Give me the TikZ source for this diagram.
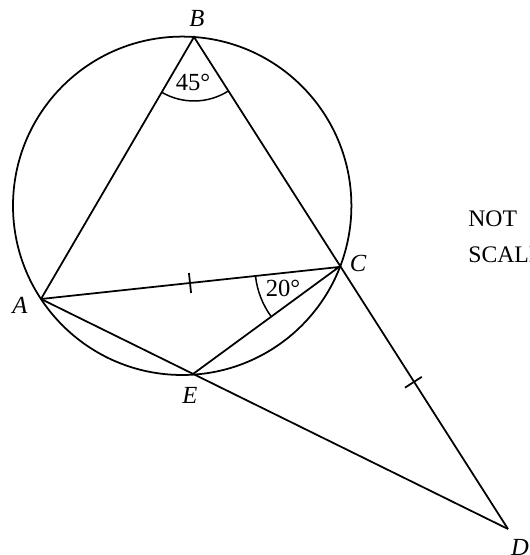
\documentclass[tikz,border=0pt]{standalone}
\usepackage{fontspec}
\setmainfont{Liberation Serif}
\usetikzlibrary{calc, angles}
\tikzset{
  geo/.style    ={line width=1pt, draw=black},
  angarc/.style ={draw=black, line width=0.85pt},
  tick/.style   ={draw=black, line width=1pt, sloped, minimum width=0pt,
                  minimum height=0.4cm, inner sep=0pt},
  ptlbl/.style  ={font=\fontsize{14}{16}\selectfont\itshape, inner sep=0pt},
  anglbl/.style ={font=\fontsize{14}{16}\selectfont, inner sep=0pt},
}
\begin{document}
\begin{tikzpicture}[x=0.02cm, y=0.02cm]
    \useasboundingbox (0,0) rectangle (529,555);
    \coordinate (O) at (182.2,349.2);
    \coordinate (A) at (41,256);
    \coordinate (B) at (194,518);
    \coordinate (C) at (339,288);
    \coordinate (E) at (193,181);
    \coordinate (D) at (508,26);

    \draw[geo] (O) circle (169.2);
    \draw[geo] (A) -- (B) -- (D);
    \draw[geo] (A) -- (D);
    \draw[geo] (A) -- (C) -- (E);

    \path (A) -- node[tick]{} (C);
    \path (C) -- node[tick, pos=0.44]{} (D);

    \pic[angarc, angle radius=1.28cm] {angle=A--B--C};
    \pic[angarc, angle radius=1.68cm] {angle=A--C--E};

    \node[ptlbl] (lB) at (197,537) {B};
    \node[ptlbl] (lC) at (358,292) {C};
    \node[ptlbl] (lA) at (20,250) {A};
    \node[ptlbl] (lE) at (190,160) {E};
    \node[ptlbl] (lD) at (520,8) {D};
    \node[anglbl] (a45) at (193,473) {45°};
    \node[anglbl] (a20) at (283,267) {20°};
    \node[anglbl, align=left, anchor=north west,
          font=\fontsize{13.5}{20.5}\selectfont] (nts) at (468,345) {NOT\\SCALE};
\end{tikzpicture}
\end{document}
